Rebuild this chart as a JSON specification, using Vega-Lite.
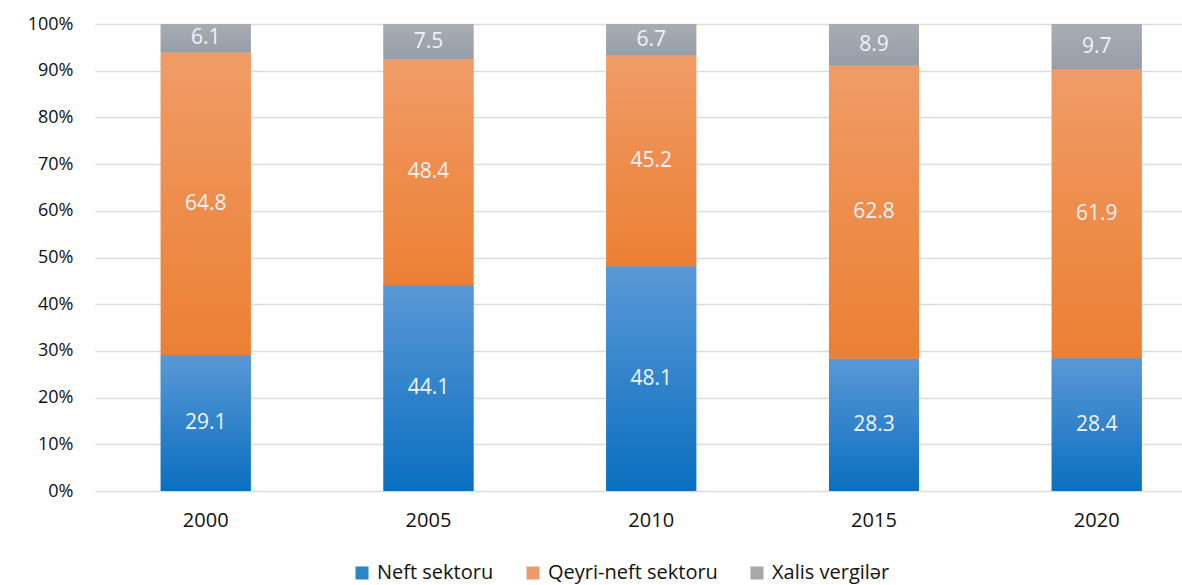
{
  "$schema": "https://vega.github.io/schema/vega-lite/v6.json",
  "autosize": "none",
  "width": 1087,
  "height": 467,
  "padding": {"left": 95, "top": 24, "right": 0, "bottom": 94},
  "background": "white",
  "config": {
    "view": {"stroke": null},
    "font": "Open Sans"
  },
  "data": {
    "values": [
      {"year": "2000", "series": "Neft sektoru", "order": 1, "value": 29.1},
      {"year": "2000", "series": "Qeyri-neft sektoru", "order": 2, "value": 64.8},
      {"year": "2000", "series": "Xalis vergilər", "order": 3, "value": 6.1},
      {"year": "2005", "series": "Neft sektoru", "order": 1, "value": 44.1},
      {"year": "2005", "series": "Qeyri-neft sektoru", "order": 2, "value": 48.4},
      {"year": "2005", "series": "Xalis vergilər", "order": 3, "value": 7.5},
      {"year": "2010", "series": "Neft sektoru", "order": 1, "value": 48.1},
      {"year": "2010", "series": "Qeyri-neft sektoru", "order": 2, "value": 45.2},
      {"year": "2010", "series": "Xalis vergilər", "order": 3, "value": 6.7},
      {"year": "2015", "series": "Neft sektoru", "order": 1, "value": 28.3},
      {"year": "2015", "series": "Qeyri-neft sektoru", "order": 2, "value": 62.8},
      {"year": "2015", "series": "Xalis vergilər", "order": 3, "value": 8.9},
      {"year": "2020", "series": "Neft sektoru", "order": 1, "value": 28.4},
      {"year": "2020", "series": "Qeyri-neft sektoru", "order": 2, "value": 61.9},
      {"year": "2020", "series": "Xalis vergilər", "order": 3, "value": 9.7}
    ]
  },
  "transform": [
    {"stack": "value", "groupby": ["year"], "sort": [{"field": "order", "order": "ascending"}], "as": ["y0", "y1"], "offset": "normalize"},
    {"calculate": "(datum.y0 + datum.y1) / 2", "as": "mid"}
  ],
  "encoding": {
    "x": {
      "field": "year",
      "type": "nominal",
      "sort": null,
      "scale": {"paddingInner": 0.596, "paddingOuter": 0.238, "align": 0.62},
      "axis": {
        "title": null,
        "domain": false,
        "ticks": false,
        "labelAngle": 0,
        "labelFontSize": 20,
        "labelFontWeight": 500,
        "labelColor": "#111111",
        "labelPadding": 19,
        "grid": false
      }
    }
  },
  "layer": [
    {
      "mark": {"type": "bar"},
      "encoding": {
        "y": {
          "field": "y0",
          "type": "quantitative",
          "scale": {"domain": [0, 1], "nice": false},
          "axis": {
            "title": null,
            "format": ".0%",
            "values": [0, 0.1, 0.2, 0.3, 0.4, 0.5, 0.6, 0.7, 0.8, 0.9, 1],
            "domain": false,
            "ticks": false,
            "gridColor": "#dcdcdc",
            "gridWidth": 1.5,
            "labelFontSize": 18,
            "labelFontWeight": 500,
            "labelColor": "#111111",
            "labelPadding": 22
          }
        },
        "y2": {"field": "y1"},
        "color": {
          "field": "series",
          "type": "nominal",
          "scale": {
            "domain": ["Neft sektoru", "Qeyri-neft sektoru", "Xalis vergilər"],
            "range": ["#2a86c4", "#ea9a6c", "#a8a8a8"]
          },
          "legend": {
            "title": null,
            "orient": "none",
            "direction": "horizontal",
            "legendX": 257,
            "legendY": 539,
            "padding": 0,
            "symbolType": "square",
            "symbolSize": 170,
            "symbolStrokeWidth": 0,
            "labelFontSize": 20,
            "labelFontWeight": 500,
            "labelColor": "#111111",
            "labelOffset": 5,
            "labelLimit": 400,
            "columnPadding": 29
          }
        }
      }
    },
    {
      "transform": [{"filter": "datum.series === 'Neft sektoru'"}],
      "mark": {
        "type": "bar",
        "fill": {
          "gradient": "linear", "x1": 0, "y1": 0, "x2": 0, "y2": 1,
          "stops": [{"offset": 0, "color": "#5a98d6"}, {"offset": 1, "color": "#0a6fc0"}]
        }
      },
      "encoding": {"y": {"field": "y0", "type": "quantitative"}, "y2": {"field": "y1"}}
    },
    {
      "transform": [{"filter": "datum.series === 'Qeyri-neft sektoru'"}],
      "mark": {
        "type": "bar",
        "fill": {
          "gradient": "linear", "x1": 0, "y1": 0, "x2": 0, "y2": 1,
          "stops": [{"offset": 0, "color": "#f09c68"}, {"offset": 0.5, "color": "#ee8d4c"}, {"offset": 1, "color": "#eb8034"}]
        }
      },
      "encoding": {"y": {"field": "y0", "type": "quantitative"}, "y2": {"field": "y1"}}
    },
    {
      "transform": [{"filter": "datum.series === 'Xalis vergilər'"}],
      "mark": {
        "type": "bar",
        "fill": {
          "gradient": "linear", "x1": 0, "y1": 0, "x2": 0, "y2": 1,
          "stops": [{"offset": 0, "color": "#a9adb3"}, {"offset": 1, "color": "#979ea8"}]
        }
      },
      "encoding": {"y": {"field": "y0", "type": "quantitative"}, "y2": {"field": "y1"}}
    },
    {
      "mark": {"type": "text", "fontSize": 21, "color": "#f0f4f8", "baseline": "middle", "align": "center"},
      "encoding": {
        "y": {"field": "mid", "type": "quantitative"},
        "text": {"field": "value", "type": "quantitative", "format": ".1f"}
      }
    }
  ]
}
